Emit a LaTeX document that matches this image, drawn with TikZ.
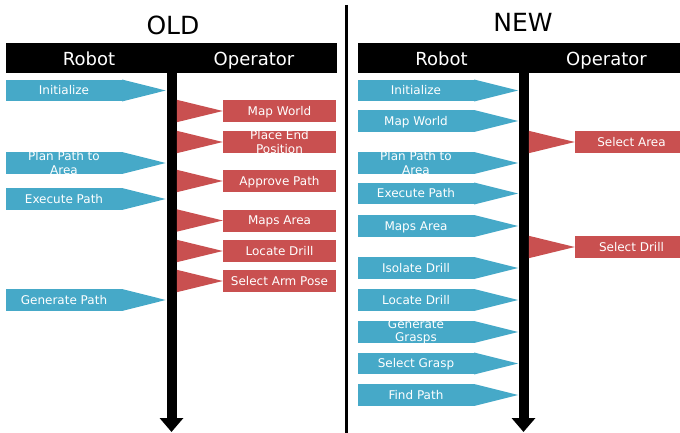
\documentclass[tikz,border=0pt]{standalone}
\usepackage{fontspec}
\setmainfont{DejaVu Sans}
\usetikzlibrary{arrows.meta}

\definecolor{robotblue}{RGB}{70,169,200}
\definecolor{opred}{RGB}{201,80,80}

\tikzset{
  title/.style={font=\fontsize{25}{28}\selectfont, text=black, anchor=base},
  headerbar/.style={fill=black, draw=none, minimum width=331pt, minimum height=30pt, inner sep=0pt},
  headtext/.style={font=\fontsize{18}{20}\selectfont, text=white, anchor=base},
  robotbox/.style={fill=robotblue, draw=none, minimum width=116pt, minimum height=21.5pt, inner sep=0pt},
  opbox/.style={fill=opred, draw=none, minimum width=113pt, minimum height=22pt, inner sep=0pt},
  steptext/.style={font=\fontsize{12}{13.5}\selectfont, text=white, align=center, inner sep=0pt},
  oneline/.style={text height=8.75pt, text depth=0pt},
  twoline/.style={},
  spine/.style={line width=10pt, -{Triangle[width=23pt,length=14pt]}},
  divider/.style={line width=3pt}
}

% a robot step: filled box with a pointer towards the time line
\newcommand\robotstep[6][oneline]{%
  \node[robotbox] (#2) at (#3,#4) {};
  \fill[robotblue] (#2.north east) -- ([xshift=#5pt]#2.east) -- (#2.south east) -- cycle;
  \node[steptext, #1] at (#2.center) {#6};
}
% an operator step: filled box with a wedge coming from the time line
\newcommand\operatorstep[5][oneline]{%
  \node[opbox] (#2) at (#3,#4) {};
  \fill[opred] (#2.west) -- ([xshift=-46pt]#2.north west) -- ([xshift=-46pt]#2.south west) -- cycle;
  \node[steptext, #1] at (#2.center) {#5};
}

\begin{document}
\begin{tikzpicture}[x=1pt, y=-1pt]
  \clip (0,0) rectangle (680,433);
  \fill[white] (0,0) rectangle (680,433);

  % column divider
  \coordinate (divtop) at (346,5);
  \coordinate (divbot) at (346,433);
  \draw[divider] (divtop) -- (divbot);

  % ---------------- OLD ----------------
  \node[title] (oldtitle) at (173,35) {OLD};
  \node[headerbar] (oldhead) at (171.5,58) {};
  \node[headtext] (oldrobot) at (89,66) {Robot};
  \node[headtext] (oldop) at (254,66) {Operator};
  \coordinate (oldtop) at (171.5,60);
  \coordinate (oldend) at (171.5,432);
  \draw[spine] (oldtop) -- (oldend);

  \robotstep{oi}{64}{90.5}{43.5}{Initialize}
  \robotstep[twoline]{opp}{64}{163}{43.5}{Plan Path to\\Area}
  \robotstep{oep}{64}{199}{43.5}{Execute Path}
  \robotstep{ogp}{64}{300}{43.5}{Generate Path}

  \operatorstep{omw}{279.5}{111}{Map World}
  \operatorstep[twoline]{ope}{279.5}{142}{Place End\\Position}
  \operatorstep{oap}{279.5}{181}{Approve Path}
  \operatorstep{oma}{279.5}{220.5}{Maps Area}
  \operatorstep{old}{279.5}{251}{Locate Drill}
  \operatorstep{osa}{279.5}{281}{Select Arm Pose}

  % ---------------- NEW ----------------
  \node[title] (newtitle) at (523,32) {NEW};
  \node[headerbar] (newhead) at (523.5,58) {};
  \node[headtext] (newrobot) at (441.5,66) {Robot};
  \node[headtext] (newop) at (606.5,66) {Operator};
  \coordinate (newtop) at (523.5,60);
  \coordinate (newend) at (523.5,432);
  \draw[spine] (newtop) -- (newend);

  \robotstep{ni}{416}{90.5}{44}{Initialize}
  \robotstep{nmw}{416}{121}{44}{Map World}
  \robotstep[twoline]{npp}{416}{163}{44}{Plan Path to\\Area}
  \robotstep{nep}{416}{193.5}{44}{Execute Path}
  \robotstep{nma}{416}{226}{44}{Maps Area}
  \robotstep{nid}{416}{268}{44}{Isolate Drill}
  \robotstep{nld}{416}{300}{44}{Locate Drill}
  \robotstep[twoline]{ngg}{416}{332}{44}{Generate\\Grasps}
  \robotstep{nsg}{416}{363.5}{44}{Select Grasp}
  \robotstep{nfp}{416}{395}{44}{Find Path}

  \operatorstep{nsa}{631.5}{142}{Select Area}
  \operatorstep{nsd}{631.5}{247}{Select Drill}
\end{tikzpicture}
\end{document}
